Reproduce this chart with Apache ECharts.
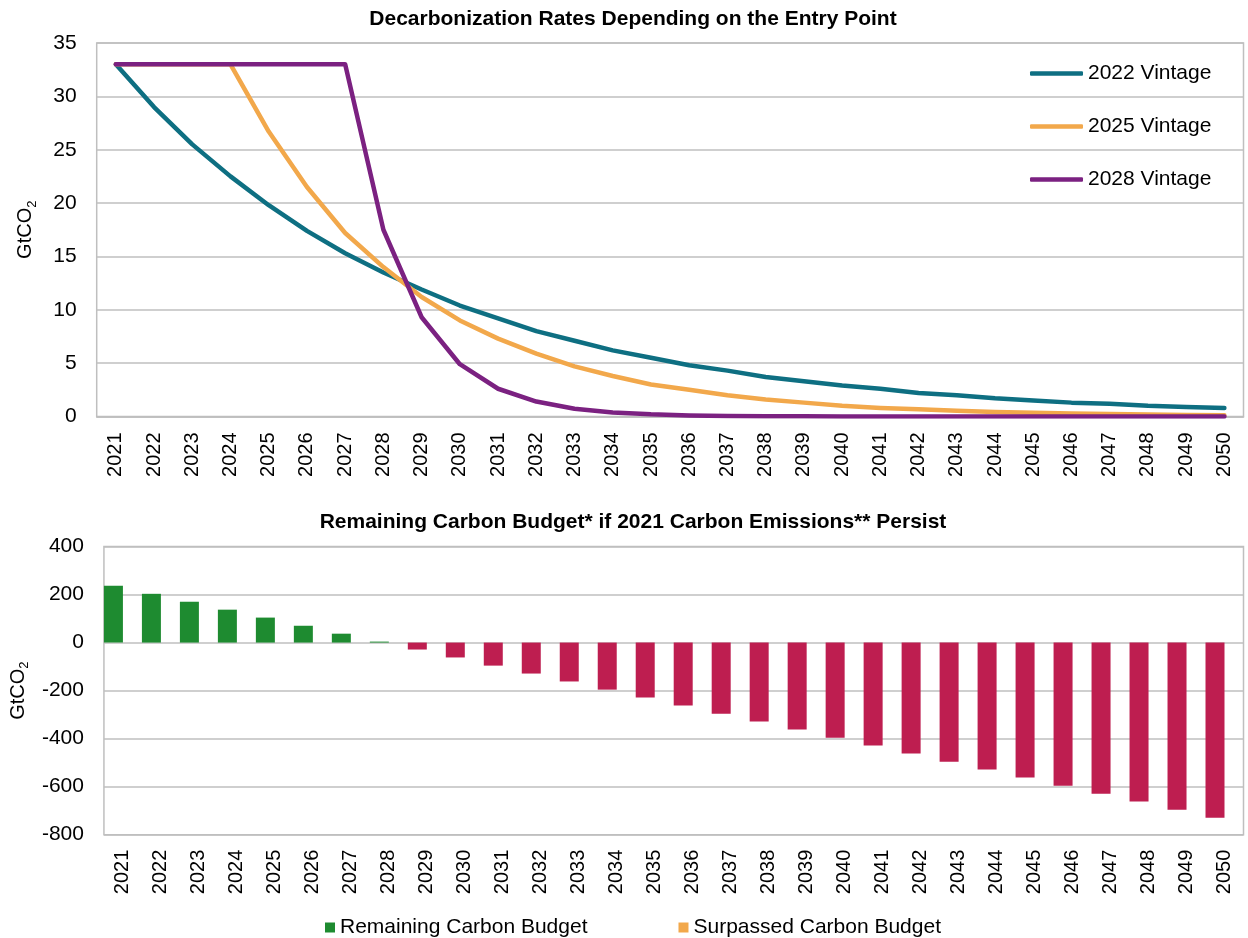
<!DOCTYPE html>
<html>
<head>
<meta charset="utf-8">
<script src="https://cdn.jsdelivr.net/npm/echarts@6/dist/echarts.min.js"></script>
<style>
  html, body { margin: 0; padding: 0; background: #fff; }
  #chart { width: 1248px; height: 938px; }
</style>
</head>
<body>
<div id="chart"></div>
<script>
// Years shared by both panels
const years = ['2021','2022','2023','2024','2025','2026','2027','2028','2029','2030',
               '2031','2032','2033','2034','2035','2036','2037','2038','2039','2040',
               '2041','2042','2043','2044','2045','2046','2047','2048','2049','2050'];

// Emission pathways (GtCO2) by entry year
const vintage2022 = [33, 29.0, 25.5, 22.5, 19.8, 17.4, 15.3, 13.5, 11.9, 10.4,
                     9.2, 8.0, 7.1, 6.2, 5.5, 4.8, 4.3, 3.7, 3.3, 2.9,
                     2.6, 2.2, 2.0, 1.7, 1.5, 1.3, 1.2, 1.0, 0.9, 0.8];
const vintage2025 = [33, 33, 33, 33, 26.7, 21.5, 17.2, 14.0, 11.2, 9.0,
                     7.3, 5.9, 4.7, 3.8, 3.0, 2.5, 2.0, 1.6, 1.3, 1.0,
                     0.8, 0.67, 0.54, 0.43, 0.35, 0.28, 0.23, 0.18, 0.15, 0.12];
const vintage2028 = [33, 33, 33, 33, 33, 33, 33, 17.5, 9.3, 4.9,
                     2.6, 1.4, 0.72, 0.38, 0.2, 0.1, 0.05, 0.03, 0.015, 0.01,
                     0.01, 0, 0, 0, 0, 0, 0, 0, 0, 0];

// Carbon budget (GtCO2) left over when 2021 emissions continue unchanged
const remainingBudget = [237, 203, 170, 137, 104, 70, 37, 4, -29, -62,
                         -96, -129, -162, -196, -229, -262, -296, -329, -362, -396,
                         -429, -462, -496, -529, -562, -596, -629, -662, -696, -729];
const surpassedBudget = [0, 0, 0, 0, 0, 0, 0, 0, 0, 0,
                         0, 0, 0, 0, 0, 0, 0, 0, 0, 0,
                         0, 0, 0, 0, 0, 0, 0, 0, 0, 0];

const FONT = '"Liberation Sans", Arial, Helvetica, sans-serif';
const GRID_GRAY = '#bfbfbf';
const TEAL = '#0e6f82', ORANGE = '#f2a84b', PURPLE = '#7b2181';
const GREEN = '#1e8b30', CRIMSON = '#be1e50';

const unitName = '{a|GtCO}{b|2}';
const unitRich = {
  a: { fontSize: 20, fontFamily: FONT, color: '#000', lineHeight: 24, verticalAlign: 'bottom' },
  b: { fontSize: 13, fontFamily: FONT, color: '#000', lineHeight: 14, verticalAlign: 'bottom', padding: [0, 0, -3, 0] }
};

const chart = echarts.init(document.getElementById('chart'), null, { renderer: 'canvas' });

chart.setOption({
  animation: false,
  backgroundColor: '#fff',
  textStyle: { fontFamily: FONT, color: '#000' },
  title: [
    { text: 'Decarbonization Rates Depending on the Entry Point', left: 628, top: 4, textAlign: 'center',
      textStyle: { fontSize: 21, fontWeight: 'bold', fontFamily: FONT, color: '#000' } },
    { text: 'Remaining Carbon Budget* if 2021 Carbon Emissions** Persist', left: 628, top: 507, textAlign: 'center',
      textStyle: { fontSize: 21, fontWeight: 'bold', fontFamily: FONT, color: '#000' } }
  ],
  legend: [
    { orient: 'vertical', left: 1025, top: 58, icon: 'roundRect', itemWidth: 53, itemHeight: 4.5, itemGap: 32,
      data: [
        { name: '2022 Vintage', itemStyle: { color: TEAL } },
        { name: '2025 Vintage', itemStyle: { color: ORANGE } },
        { name: '2028 Vintage', itemStyle: { color: PURPLE } }
      ],
      textStyle: { fontSize: 21, fontFamily: FONT, color: '#000', lineHeight: 21 } },
    { orient: 'horizontal', left: 320, top: 912, icon: 'rect', itemWidth: 10, itemHeight: 10, itemGap: 91,
      data: [
        { name: 'Remaining Carbon Budget', itemStyle: { color: GREEN } },
        { name: 'Surpassed Carbon Budget', itemStyle: { color: ORANGE } }
      ],
      textStyle: { fontSize: 21, fontFamily: FONT, color: '#000' } }
  ],
  grid: [
    { left: 96.7, right: 4.5, top: 43, bottom: 521.5, show: true, borderColor: GRID_GRAY, borderWidth: 1.5 },
    { left: 102.7, right: 4.5, top: 546.5, bottom: 103.3, show: true, borderColor: GRID_GRAY, borderWidth: 1.5 }
  ],
  xAxis: [
    { type: 'category', gridIndex: 0, data: years, boundaryGap: true,
      axisLine: { show: true, lineStyle: { color: GRID_GRAY, width: 1.5 } }, axisTick: { show: false },
      axisLabel: { rotate: 90, margin: 16, fontSize: 20, fontFamily: FONT, color: '#000', interval: 0 } },
    { type: 'category', gridIndex: 1, data: years, boundaryGap: true, position: 'bottom',
      axisLine: { show: false, onZero: false }, axisTick: { show: false },
      axisLabel: { rotate: 90, margin: 15, fontSize: 20, fontFamily: FONT, color: '#000', interval: 0 } }
  ],
  yAxis: [
    { type: 'value', gridIndex: 0, min: 0, max: 35, interval: 5,
      name: unitName, nameLocation: 'middle', nameGap: 61, nameRotate: 90,
      nameTextStyle: { rich: unitRich },
      axisLine: { show: false }, axisTick: { show: false },
      axisLabel: { margin: 20, fontSize: 21, fontFamily: FONT, color: '#000' },
      splitLine: { lineStyle: { color: GRID_GRAY, width: 1.5 } } },
    { type: 'value', gridIndex: 1, min: -800, max: 400, interval: 200,
      name: unitName, nameLocation: 'middle', nameGap: 65, nameRotate: 90,
      nameTextStyle: { rich: unitRich },
      axisLine: { show: false }, axisTick: { show: false },
      axisLabel: { margin: 20, fontSize: 21, fontFamily: FONT, color: '#000' },
      splitLine: { lineStyle: { color: GRID_GRAY, width: 1.5 } } }
  ],
  series: [
    { name: '2022 Vintage', type: 'line', xAxisIndex: 0, yAxisIndex: 0, data: vintage2022,
      symbol: 'none', lineStyle: { color: TEAL, width: 4.5, cap: 'round', join: 'round' }, itemStyle: { color: TEAL } },
    { name: '2025 Vintage', type: 'line', xAxisIndex: 0, yAxisIndex: 0, data: vintage2025,
      symbol: 'none', lineStyle: { color: ORANGE, width: 4.5, cap: 'round', join: 'round' }, itemStyle: { color: ORANGE } },
    { name: '2028 Vintage', type: 'line', xAxisIndex: 0, yAxisIndex: 0, data: vintage2028,
      symbol: 'none', lineStyle: { color: PURPLE, width: 4.5, cap: 'round', join: 'round' }, itemStyle: { color: PURPLE } },
    { name: 'Remaining Carbon Budget', type: 'bar', xAxisIndex: 1, yAxisIndex: 1, data: remainingBudget,
      barWidth: 19, barGap: '0%',
      itemStyle: { color: p => (p.value < 0 ? CRIMSON : GREEN) } },
    { name: 'Surpassed Carbon Budget', type: 'bar', xAxisIndex: 1, yAxisIndex: 1, data: surpassedBudget,
      barWidth: 19, barGap: '0%', itemStyle: { color: ORANGE } }
  ]
});
</script>
</body>
</html>
